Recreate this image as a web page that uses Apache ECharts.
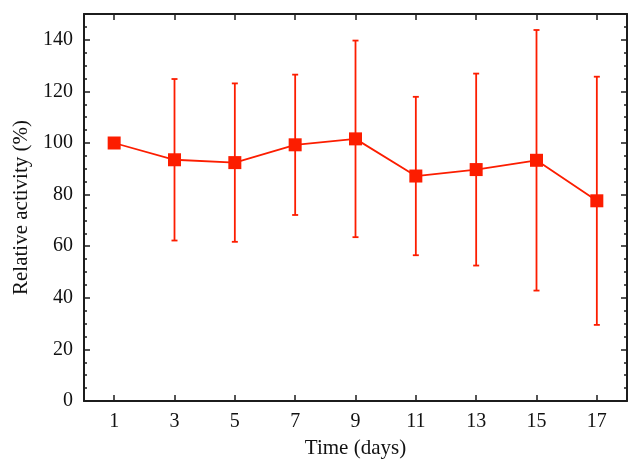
<!DOCTYPE html>
<html>
<head>
<meta charset="utf-8">
<script src="https://cdn.jsdelivr.net/npm/echarts@6/dist/echarts.min.js"></script>
<style>
html,body{margin:0;padding:0;background:#fff;}
#chart{width:642px;height:474px;}
</style>
</head>
<body>
<div id="chart"></div>
<script>
// ---- data ----
const days = [1, 3, 5, 7, 9, 11, 13, 15, 17];
const activity = [100, 93.5, 92.4, 99.3, 101.6, 87.2, 89.7, 93.3, 77.6];
const errorSD = [0, 31.3, 30.7, 27.2, 38.1, 30.7, 37.2, 50.5, 48.1];
const xTickLabels = ['1', '3', '5', '7', '9', '11', '13', '15', '17'];
const yTickLabels = [0, 20, 40, 60, 80, 100, 120, 140];

// axis scaffold: day 0 .. 18 as categories
const axisDays = [];
for (let d = 0; d <= 18; d++) axisDays.push(String(d));

const RED = '#fc1d00';
const AXC = '#1c1c1c';
const FONT = '"Liberation Serif", "DejaVu Serif", serif';

const isLabeled = (idx, val) => xTickLabels.indexOf(String(val)) >= 0;

const chart = echarts.init(document.getElementById('chart'), null, {renderer: 'canvas'});

const lineData = days.map((d, i) => [String(d), activity[i]]);
const errData = days.map((d, i) => [String(d), activity[i] - errorSD[i], activity[i] + errorSD[i]]);

function baseX(pos, showLabel) {
  return {
    type: 'category', data: axisDays, boundaryGap: false, position: pos,
    axisLine: {show: true, onZero: false, lineStyle: {color: AXC, width: 2}},
    axisTick: {show: true, inside: true, length: 6, interval: isLabeled, lineStyle: {color: AXC, width: 1.5}},
    axisLabel: {show: showLabel, interval: isLabeled, margin: 11, color: '#111', fontFamily: FONT, fontSize: 20},
    splitLine: {show: false}
  };
}
function baseY(pos, interval, major, showLabel) {
  return {
    type: 'value', min: 0, max: 150, interval: interval, position: pos,
    axisLine: {show: major, onZero: false, lineStyle: {color: AXC, width: 2}},
    axisTick: {show: true, inside: true, length: major ? 6 : 3, lineStyle: {color: AXC, width: 1.5}},
    axisLabel: {show: showLabel, margin: 11, color: '#111', fontFamily: FONT, fontSize: 20,
      formatter: v => (yTickLabels.indexOf(v) >= 0 ? String(v) : '')},
    splitLine: {show: false}
  };
}

const xBottom = baseX('bottom', true);
xBottom.name = 'Time (days)';
xBottom.nameLocation = 'middle';
xBottom.nameGap = 37;
xBottom.nameTextStyle = {color: '#111', fontFamily: FONT, fontSize: 21};
const xTop = baseX('top', false);

const yLeft = baseY('left', 20, true, true);
yLeft.name = 'Relative activity (%)';
yLeft.nameLocation = 'middle';
yLeft.nameGap = 44;
yLeft.nameTextStyle = {color: '#111', fontFamily: FONT, fontSize: 21};

const option = {
  animation: false,
  backgroundColor: '#fff',
  grid: {left: 84, right: 15, top: 14, bottom: 73, containLabel: false},
  xAxis: [xBottom, xTop],
  yAxis: [
    yLeft,
    baseY('left', 5, false, false),
    baseY('right', 20, true, false),
    baseY('right', 5, false, false)
  ],
  series: [
    {
      type: 'custom', xAxisIndex: 0, yAxisIndex: 0, z: 2,
      encode: {x: 0, y: [1, 2]},
      data: errData,
      renderItem: function (params, api) {
        const x = api.value(0);
        const lo = api.value(1), hi = api.value(2);
        if (hi - lo < 1e-6) return null;
        const top = api.coord([x, hi]);
        const bot = api.coord([x, lo]);
        const w = 3;
        const st = {stroke: RED, lineWidth: 1.8};
        return {
          type: 'group',
          children: [
            {type: 'line', shape: {x1: top[0], y1: top[1], x2: bot[0], y2: bot[1]}, style: st},
            {type: 'line', shape: {x1: top[0] - w, y1: top[1], x2: top[0] + w, y2: top[1]}, style: st},
            {type: 'line', shape: {x1: bot[0] - w, y1: bot[1], x2: bot[0] + w, y2: bot[1]}, style: st}
          ]
        };
      }
    },
    {
      type: 'line', xAxisIndex: 0, yAxisIndex: 0, z: 3,
      data: lineData,
      symbol: 'rect', symbolSize: 13,
      lineStyle: {color: RED, width: 1.8},
      itemStyle: {color: RED}
    }
  ]
};
chart.setOption(option);
</script>
</body>
</html>
